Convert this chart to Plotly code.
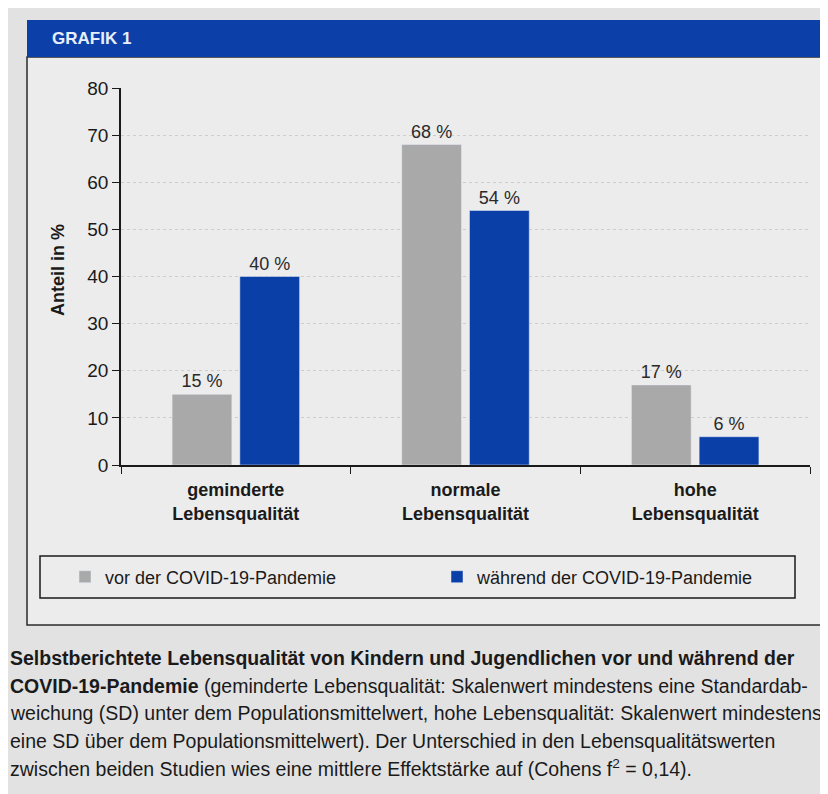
import plotly.graph_objects as go

# data
categories = ["geminderte<br>Lebensqualität", "normale<br>Lebensqualität", "hohe<br>Lebensqualität"]
vor_pandemie = [15, 68, 17]
waehrend_pandemie = [40, 54, 6]
y_ticks = [0, 10, 20, 30, 40, 50, 60, 70, 80]
series_names = ["vor der COVID-19-Pandemie", "während der COVID-19-Pandemie"]

caption_lines = [
    "<b>Selbstberichtete Lebensqualität von Kindern und Jugendlichen vor und während der</b>",
    "<b>COVID-19-Pandemie</b> (geminderte Lebensqualität: Skalenwert mindestens eine Standardab-",
    "weichung (SD) unter dem Populationsmittelwert, hohe Lebensqualität: Skalenwert mindestens",
    "eine SD über dem Populationsmittelwert). Der Unterschied in den Lebensqualitätswerten",
    "zwischen beiden Studien wies eine mittlere Effektstärke auf (Cohens f<sup>2</sup> = 0,14).",
]

FONT = "Liberation Sans, Arial, sans-serif"
GRAY = "#a9a9a9"
BLUE = "#0b3fa8"
W, H = 828, 794
OFF = 8  # page body margin
# plot area in screen pixels
L, R, T, B = 121, 810, 88, 465


def px(x):
    return (x - L) / (R - L)


def py(y):
    return (B - y) / (B - T)


fig = go.Figure()
fig.add_trace(go.Bar(
    name=series_names[0], x=categories, y=vor_pandemie,
    marker=dict(color=GRAY), legend="legend",
    texttemplate="%{y} %", textposition="outside",
    textfont=dict(size=18, color="#2a2a2a"), cliponaxis=False,
))
fig.add_trace(go.Bar(
    name=series_names[1], x=categories, y=waehrend_pandemie,
    marker=dict(color=BLUE), legend="legend2",
    texttemplate="%{y} %", textposition="outside",
    textfont=dict(size=18, color="#2a2a2a"), cliponaxis=False,
))

shapes = [
    # panel
    dict(type="rect", xref="paper", yref="paper", layer="below",
         x0=px(27), x1=px(840), y0=py(625), y1=py(57),
         fillcolor="#ececec", line=dict(color="#2b2b2b", width=1.5)),
    # header band
    dict(type="rect", xref="paper", yref="paper", layer="below",
         x0=px(27), x1=px(840), y0=py(57), y1=py(20),
         fillcolor="#0c40a8", line=dict(width=0)),
    # legend frame
    dict(type="rect", xref="paper", yref="paper", layer="above",
         x0=px(40), x1=px(795), y0=py(598), y1=py(556),
         fillcolor="rgba(0,0,0,0)", line=dict(color="#1a1a1a", width=1.5)),
]

annotations = [
    dict(text="<b>GRAFIK 1</b>", xref="paper", yref="paper", x=px(50), y=py(38),
         xanchor="left", yanchor="middle", showarrow=False,
         font=dict(size=17, color="#e8eefc", family=FONT)),
    dict(text="<b>Anteil in %</b>", xref="paper", yref="paper", x=px(58), y=py(270),
         xanchor="center", yanchor="middle", textangle=-90, showarrow=False,
         font=dict(size=18, color="#1a1a1a", family=FONT)),
]
line_y = [658, 686, 713, 741, 768]
for txt, yy in zip(caption_lines, line_y):
    annotations.append(dict(
        text=txt, xref="paper", yref="paper", x=px(8), y=py(yy),
        xanchor="left", yanchor="middle", showarrow=False,
        font=dict(size=19.5, color="#1a1a1a", family=FONT),
    ))

legend_style = dict(
    orientation="h", yanchor="middle", xanchor="left", y=py(577),
    font=dict(size=18, color="#1a1a1a", family=FONT),
    bgcolor="rgba(0,0,0,0)", borderwidth=0,
)

fig.update_layout(
    width=W, height=H,
    margin=dict(l=L - OFF, r=W - (R - OFF), t=T - OFF, b=H - (B - OFF)),
    paper_bgcolor="#e2e2e2",
    plot_bgcolor="rgba(0,0,0,0)",
    font=dict(family=FONT, color="#1a1a1a"),
    barmode="group", bargap=0.41, bargroupgap=0.118,
    showlegend=True,
    legend=dict(x=px(65), **legend_style),
    legend2=dict(x=px(437), **legend_style),
    shapes=shapes,
    annotations=annotations,
)
fig.update_yaxes(
    range=[0, 80], tickvals=y_ticks, showline=True, linecolor="#1a1a1a", linewidth=1.5,
    ticks="outside", ticklen=7, tickcolor="#1a1a1a",
    tickfont=dict(size=19, color="#1a1a1a"),
    showgrid=True, gridcolor="#cdcdcd", griddash="dot", gridwidth=1,
    zeroline=False,
)
fig.update_xaxes(
    showline=True, linecolor="#1a1a1a", linewidth=1.5,
    ticks="outside", ticklen=7, tickcolor="#1a1a1a", tickson="boundaries",
    tickfont=dict(size=18, color="#1a1a1a", weight="bold"),
    ticklabelstandoff=8,
    range=[-0.5, 2.5],
)

fig.write_html("out.html")
